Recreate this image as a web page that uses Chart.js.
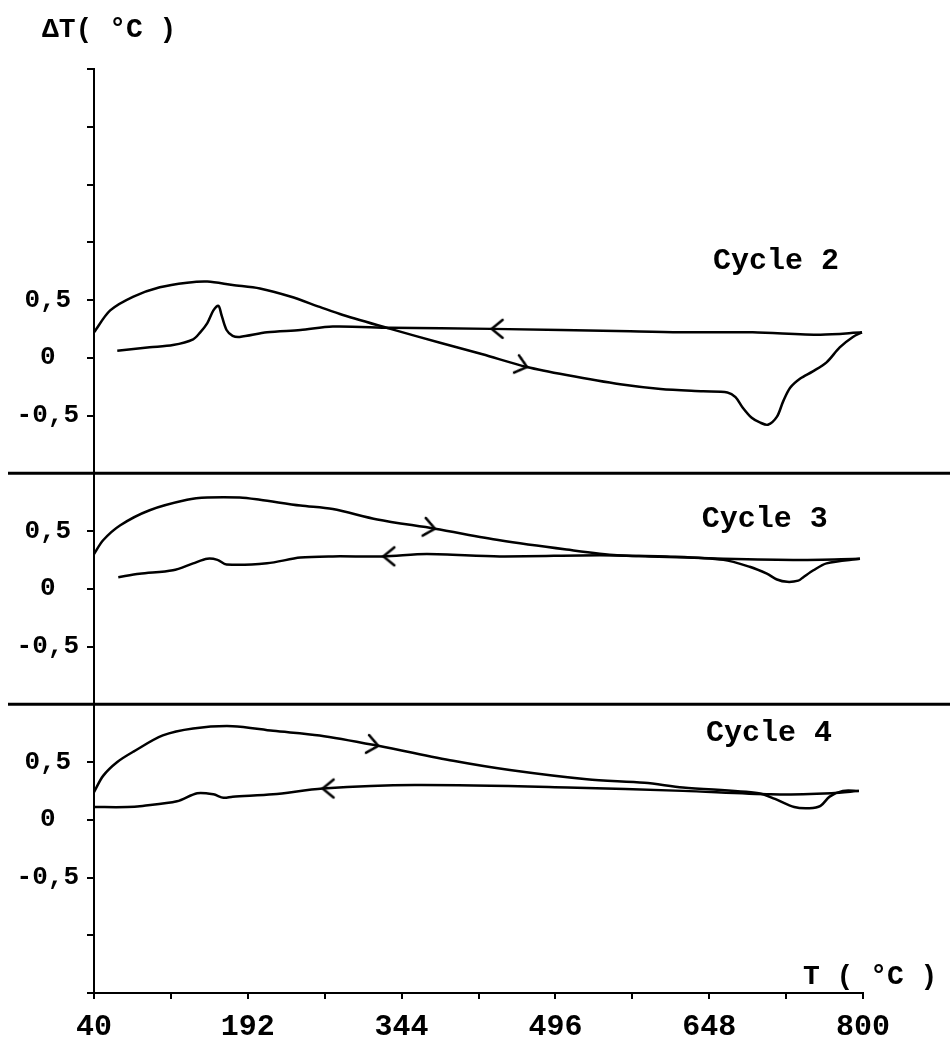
<!DOCTYPE html>
<html>
<head>
<meta charset="utf-8">
<script src="https://cdn.jsdelivr.net/npm/chart.js@4.4.1/dist/chart.umd.min.js"></script>
<style>
  html, body { margin: 0; padding: 0; background: #fff; }
  #wrap { position: relative; width: 950px; height: 1040px; }
</style>
</head>
<body>
<div id="wrap"><canvas id="dta"></canvas></div>
<script>
// Axis ticks and labels
const xTickValues = [40, 116, 192, 268, 344, 420, 496, 572, 648, 724, 800];
const xLabelValues = [40, 192, 344, 496, 648, 800];
const yTitle = "ΔT( °C )";
const xTitle = "T ( °C )";

// Cycle 2 (heating goes right, cooling comes back left)
const c2HeatT  = [40, 56, 79, 105, 132, 152, 177, 204, 234, 263, 286, 333, 382, 424, 468, 507, 560, 600, 642, 666, 674, 681, 690, 698, 706, 715, 721, 728, 738, 750, 764, 777, 790, 799];
const c2HeatDT = [0.22, 0.41, 0.53, 0.61, 0.65, 0.66, 0.63, 0.60, 0.53, 0.44, 0.37, 0.25, 0.13, 0.03, -0.08, -0.15, -0.23, -0.27, -0.29, -0.30, -0.34, -0.43, -0.52, -0.56, -0.58, -0.51, -0.38, -0.26, -0.18, -0.12, -0.04, 0.09, 0.18, 0.22];
const c2CoolT  = [799, 758, 691, 626, 570, 433, 333, 276, 244, 211, 184, 177, 171, 166, 163, 158, 152, 145, 138, 118, 95, 63];
const c2CoolDT = [0.22, 0.20, 0.22, 0.22, 0.23, 0.25, 0.26, 0.27, 0.24, 0.22, 0.18, 0.19, 0.24, 0.37, 0.45, 0.41, 0.30, 0.22, 0.16, 0.11, 0.09, 0.06];

// Cycle 3
const c3HeatT  = [40, 49, 66, 95, 132, 152, 184, 204, 244, 276, 320, 377, 441, 507, 557, 606, 662, 688, 705, 715, 725, 736, 741, 751, 764, 797];
const c3HeatDT = [0.30, 0.42, 0.55, 0.68, 0.77, 0.79, 0.79, 0.77, 0.72, 0.69, 0.60, 0.52, 0.42, 0.34, 0.29, 0.28, 0.25, 0.19, 0.13, 0.08, 0.06, 0.07, 0.10, 0.16, 0.22, 0.26];
const c3CoolT  = [797, 738, 662, 589, 540, 441, 369, 326, 276, 244, 211, 171, 162, 152, 138, 118, 85, 64];
const c3CoolDT = [0.26, 0.25, 0.26, 0.28, 0.29, 0.28, 0.30, 0.28, 0.28, 0.27, 0.22, 0.21, 0.25, 0.26, 0.22, 0.16, 0.13, 0.10];

// Cycle 4
const c4HeatT  = [40, 49, 63, 79, 108, 138, 177, 217, 263, 321, 395, 451, 527, 584, 622, 697, 713, 732, 747, 758, 767, 780, 796];
const c4HeatDT = [0.24, 0.38, 0.50, 0.59, 0.73, 0.79, 0.81, 0.77, 0.73, 0.64, 0.51, 0.43, 0.35, 0.32, 0.28, 0.23, 0.18, 0.11, 0.10, 0.12, 0.20, 0.25, 0.25];
const c4CoolT  = [796, 769, 709, 622, 508, 357, 266, 217, 177, 168, 158, 142, 122, 88, 73, 40];
const c4CoolDT = [0.25, 0.23, 0.22, 0.25, 0.28, 0.30, 0.27, 0.22, 0.20, 0.19, 0.22, 0.23, 0.16, 0.12, 0.11, 0.11];

// direction arrows sitting on the curves: [heating, cooling]
const c2ArrowT = [468, 433];
const c2ArrowDT = [-0.08, 0.25];
const c3ArrowT = [377, 326];
const c3ArrowDT = [0.52, 0.28];
const c4ArrowT = [321, 266];
const c4ArrowDT = [0.64, 0.27];

// cycle names and where they sit
const cycleNames = ["Cycle 2", "Cycle 3", "Cycle 4"];
const cycleAxes = ["y2", "y3", "y4"];
const cycleLabelT = [714, 703, 707];
const cycleLabelDT = [0.83, 0.60, 0.75];

const FONT = "'Liberation Mono', 'DejaVu Sans Mono', monospace";

function pts(xs, ys) {
    return xs.map((x, i) => ({ x: x, y: ys[i] }));
}

// open chevron ">" with its tip in the middle of the image
function chevron() {
    const c = document.createElement("canvas");
    c.width = 32;
    c.height = 24;
    const g = c.getContext("2d");
    g.strokeStyle = "#000";
    g.lineWidth = 2.5;
    g.lineCap = "round";
    g.beginPath();
    g.moveTo(5, 3);
    g.lineTo(16, 12);
    g.lineTo(5, 21);
    g.stroke();
    return c;
}
const arrowImg = chevron();

function curve(xs, ys, axis) {
    return {
        data: pts(xs, ys),
        yAxisID: axis,
        borderColor: "#000",
        borderWidth: 2.5,
        pointRadius: 0,
        tension: 0.3,
        fill: false
    };
}

function arrows(xs, ys, axis, rot) {
    return {
        data: pts(xs, ys),
        yAxisID: axis,
        showLine: false,
        pointStyle: arrowImg,
        pointRadius: 4,
        pointRotation: ctx => rot[ctx.dataIndex]
    };
}

function yScale(min, max, weight) {
    return {
        type: "linear",
        position: "left",
        stack: "cycles",
        stackWeight: weight,
        min: min,
        max: max,
        offset: false,
        border: { color: "#000", width: 2 },
        grid: { drawOnChartArea: false, color: "#000", lineWidth: 2, tickLength: 7 },
        ticks: {
            stepSize: 0.5,
            autoSkip: false,
            color: "#000",
            padding: 8,
            crossAlign: "center",
            font: { family: FONT, weight: "bold", size: 26 },
            callback: v => (Math.abs(v) <= 0.5001 ? String(v).replace(".", ",") : "")
        },
        afterFit: s => { s.width = 94; }
    };
}

const decor = {
    id: "decor",
    afterDraw(chart) {
        const { ctx, scales, width, chartArea } = chart;
        ctx.save();
        // separators between the cycles
        ctx.strokeStyle = "#000";
        ctx.lineWidth = 3;
        [scales.y2.bottom, scales.y3.bottom].forEach(y => {
            ctx.beginPath();
            ctx.moveTo(8, y);
            ctx.lineTo(width, y);
            ctx.stroke();
        });
        ctx.fillStyle = "#000";
        ctx.textBaseline = "middle";
        ctx.textAlign = "left";
        ctx.font = "bold 28px " + FONT;
        ctx.fillText(yTitle, 42, 30);
        ctx.fillText(xTitle, chartArea.right - 60, chartArea.bottom - 16);
        ctx.font = "bold 30px " + FONT;
        ctx.textAlign = "center";
        cycleNames.forEach((name, i) => {
            ctx.fillText(name,
                scales.x.getPixelForValue(cycleLabelT[i]),
                scales[cycleAxes[i]].getPixelForValue(cycleLabelDT[i]));
        });
        ctx.restore();
    }
};

new Chart(document.getElementById("dta"), {
    type: "line",
    data: {
        datasets: [
            curve(c2HeatT, c2HeatDT, "y2"),
            curve(c2CoolT, c2CoolDT, "y2"),
            curve(c3HeatT, c3HeatDT, "y3"),
            curve(c3CoolT, c3CoolDT, "y3"),
            curve(c4HeatT, c4HeatDT, "y4"),
            curve(c4CoolT, c4CoolDT, "y4"),
            arrows(c2ArrowT, c2ArrowDT, "y2", [16, 180]),
            arrows(c3ArrowT, c3ArrowDT, "y3", [10, 180]),
            arrows(c4ArrowT, c4ArrowDT, "y4", [10, 180])
        ]
    },
    options: {
        responsive: true,
        maintainAspectRatio: false,
        animation: false,
        events: [],
        layout: { padding: { top: 69, right: 87, bottom: 0, left: 0 } },
        plugins: { legend: { display: false }, tooltip: { enabled: false } },
        scales: {
            x: {
                type: "linear",
                position: "bottom",
                min: 40,
                max: 800,
                border: { color: "#000", width: 2 },
                grid: { drawOnChartArea: false, color: "#000", lineWidth: 2, tickLength: 6 },
                afterBuildTicks: s => { s.ticks = xTickValues.map(v => ({ value: v })); },
                ticks: {
                    autoSkip: false,
                    maxRotation: 0,
                    color: "#000",
                    padding: 10,
                    font: { family: FONT, weight: "bold", size: 30 },
                    callback: v => (xLabelValues.includes(v) ? String(v) : "")
                },
                afterFit: s => { s.height = 47; }
            },
            // defined bottom-up so that cycle 2 ends on top of the stack
            y4: yScale(-1.5, 1.0, 2.5),
            y3: yScale(-1.0, 1.0, 2),
            y2: yScale(-1.0, 2.5, 3.5)
        }
    },
    plugins: [decor]
});
</script>
</body>
</html>
